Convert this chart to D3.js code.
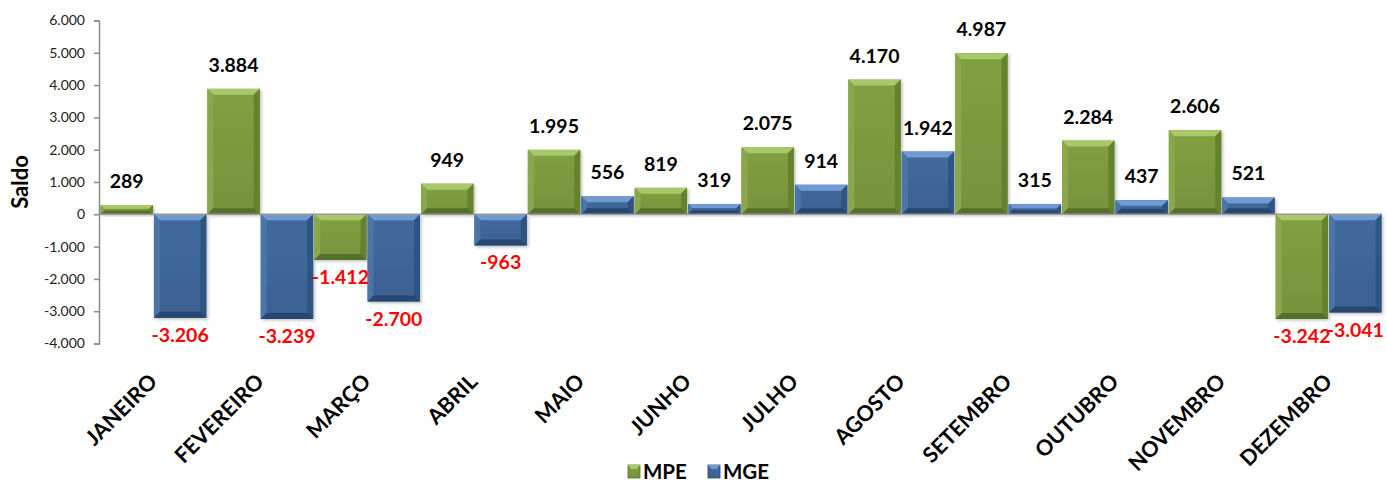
<!DOCTYPE html>
<html>
<head>
<meta charset="utf-8">
<script src="https://cdn.jsdelivr.net/npm/d3@7"></script>
<style>
  html, body { margin: 0; padding: 0; background: #fff; }
  svg { display: block; }
  text { font-family: Lato, "Open Sans", sans-serif; }
</style>
</head>
<body>
<svg id="chart" width="1387" height="482"></svg>
<script>
const months = ["JANEIRO","FEVEREIRO","MARÇO","ABRIL","MAIO","JUNHO","JULHO","AGOSTO","SETEMBRO","OUTUBRO","NOVEMBRO","DEZEMBRO"];
const seriesNames = ["MPE", "MGE"];
const mpeValues = [289, 3884, -1412, 949, 1995, 819, 2075, 4170, 4987, 2284, 2606, -3242];
const mgeValues = [-3206, -3239, -2700, -963, 556, 319, 914, 1942, 315, 437, 521, -3041];
const yTicks = [-4000, -3000, -2000, -1000, 0, 1000, 2000, 3000, 4000, 5000, 6000];
const yTitle = "Saldo";

const palette = {
  MPE: { body: "#7a983d", top: "#a9c86b", left: "#8aa84c", right: "#66822f", bottom: "#55702a" },
  MGE: { body: "#3e6597", top: "#6f9ad2", left: "#4a74a8", right: "#2f5482", bottom: "#284670" }
};

const loc = d3.formatLocale({decimal: ",", thousands: ".", grouping: [3], currency: ["R$", ""], minus: "-"});
const fmt = loc.format(",d");

const svg = d3.select("#chart");

const x0 = d3.scaleBand().domain(months).range([100, 1382]).padding(0);
const x1 = d3.scaleBand().domain(seriesNames).range([0, x0.bandwidth()]).padding(0);
const y = d3.scaleLinear().domain([-4000, 6000]).range([343.5, 20.5]);

const data = months.map((m, i) => ({month: m, values: [
  {series: "MPE", value: mpeValues[i]},
  {series: "MGE", value: mgeValues[i]}
]}));

const defs = svg.append("defs");
const f = defs.append("filter").attr("id", "shadow").attr("x", "-20%").attr("y", "-20%").attr("width", "140%").attr("height", "140%");
f.append("feDropShadow").attr("dx", 1.5).attr("dy", 1.5).attr("stdDeviation", 1.5).attr("flood-color", "#000").attr("flood-opacity", 0.25);

seriesNames.forEach(s => {
  const g = defs.append("linearGradient").attr("id", "body-" + s).attr("x1", 0).attr("x2", 0).attr("y1", 0).attr("y2", 1);
  g.append("stop").attr("offset", "0%").attr("stop-color", d3.color(palette[s].body).brighter(0.15));
  g.append("stop").attr("offset", "100%").attr("stop-color", d3.color(palette[s].body).darker(0.1));
});

// Y axis
const yAxis = d3.axisLeft(y).tickValues(yTicks).tickSize(5).tickFormat(fmt);
const gy = svg.append("g").attr("transform", "translate(99,0)").call(yAxis);
gy.select(".domain").attr("stroke", "#8c8c8c").attr("stroke-width", 1.5);
gy.selectAll(".tick line").attr("stroke", "#8c8c8c").attr("stroke-width", 1.5);
gy.selectAll(".tick text").attr("font-size", 14).attr("fill", "#222").attr("x", -14)
  .attr("font-family", "Lato, sans-serif");

svg.append("text")
  .attr("transform", `translate(28,${(y(6000) + y(-4000)) / 2}) rotate(-90)`)
  .attr("text-anchor", "middle")
  .attr("font-size", 22).attr("font-weight", "bold").attr("fill", "#000")
  .text(yTitle);

// bars
const groups = svg.append("g").selectAll("g.month").data(data).join("g")
  .attr("class", "month")
  .attr("transform", d => `translate(${x0(d.month)},0)`);

const bars = groups.selectAll("g.bar").data(d => d.values).join("g").attr("class", "bar")
  .attr("filter", "url(#shadow)");

bars.each(function(d) {
  const g = d3.select(this);
  const xL = x1(d.series) + 0.5, w = x1.bandwidth() - 1;
  const yT = Math.min(y(d.value), y(0)), yB = Math.max(y(d.value), y(0));
  const h = yB - yT;
  const p = palette[d.series];
  const b = Math.max(0, Math.min(6, h / 2.5, w / 2.5));
  g.append("rect").attr("x", xL).attr("y", yT).attr("width", w).attr("height", h).attr("fill", `url(#body-${d.series})`);
  const xR = xL + w;
  const poly = pts => pts.map(q => q.join(",")).join(" ");
  g.append("polygon").attr("points", poly([[xL, yT], [xR, yT], [xR - b, yT + b], [xL + b, yT + b]])).attr("fill", p.top);
  g.append("polygon").attr("points", poly([[xL, yT], [xL + b, yT + b], [xL + b, yB - b], [xL, yB]])).attr("fill", p.left);
  g.append("polygon").attr("points", poly([[xR, yT], [xR, yB], [xR - b, yB - b], [xR - b, yT + b]])).attr("fill", p.right);
  g.append("polygon").attr("points", poly([[xL, yB], [xL + b, yB - b], [xR - b, yB - b], [xR, yB]])).attr("fill", p.bottom);
});

// zero line
svg.append("line").attr("x1", 99).attr("x2", 1382).attr("y1", y(0)).attr("y2", y(0))
  .attr("stroke", "#9a9a9a").attr("stroke-width", 1.5);

// value labels
groups.selectAll("text.val").data(d => d.values).join("text").attr("class", "val")
  .attr("x", d => x1(d.series) + x1.bandwidth() / 2)
  .attr("y", d => d.value >= 0 ? y(d.value) - 17 : y(d.value) + 24)
  .attr("text-anchor", "middle")
  .attr("font-size", 19.5).attr("font-weight", "bold")
  .attr("fill", d => d.value >= 0 ? "#000" : "#ff0000")
  .text(d => fmt(d.value));

// category labels
svg.append("g").selectAll("text.cat").data(months).join("text").attr("class", "cat")
  .attr("transform", m => `translate(${x0(m) + x0.bandwidth() / 2 + 5},383) rotate(-45)`)
  .attr("text-anchor", "end")
  .attr("font-size", 21.5).attr("font-weight", "bold").attr("fill", "#000")
  .text(m => m);

// legend
const legend = svg.append("g").attr("transform", "translate(628,465)");
const li = legend.selectAll("g").data(seriesNames).join("g")
  .attr("transform", (s, i) => `translate(${i * 80},0)`);
li.append("rect").attr("width", 12).attr("height", 13).attr("fill", s => `url(#body-${s})`)
  .attr("stroke", s => palette[s].bottom).attr("stroke-width", 0.8);
li.append("polygon").attr("points", "0,0 12,0 8.5,4 3.5,4").attr("fill", s => palette[s].top);
li.append("text").attr("x", 15).attr("y", 14).attr("font-size", 20.5).attr("font-weight", "bold").attr("fill", "#000")
  .text(s => s);
</script>
</body>
</html>
